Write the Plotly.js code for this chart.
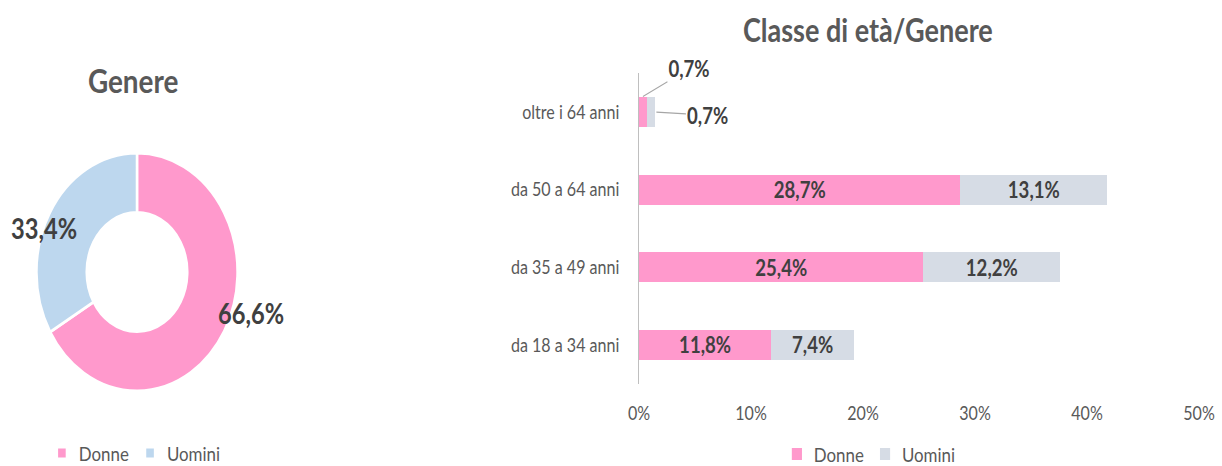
<!DOCTYPE html>
<html>
<head>
<meta charset="utf-8">
<script src="https://cdn.plot.ly/plotly-3.0.1.min.js"></script>
<style>
  html, body { margin: 0; padding: 0; background: #fff; }
  #wrap { width: 1222px; height: 466px; overflow: hidden; }
  #plot { width: 1446px; height: 466px; transform: scaleX(0.8451); transform-origin: 0 0; }
</style>
</head>
<body>
<div id="wrap"><div id="plot"></div></div>
<script>
// ---- data ----
const genderLabels = ['Donne', 'Uomini'];
const genderValues = [66.6, 33.4];

const ageCategories = ['da 18 a 34 anni', 'da 35 a 49 anni', 'da 50 a 64 anni', 'oltre i 64 anni'];
const donneValues = [11.8, 25.4, 28.7, 0.7];
const uominiValues = [7.4, 12.2, 13.1, 0.7];
const xTickValues = [0, 10, 20, 30, 40, 50];

const pieTitle = 'Genere';
const barTitle = 'Classe di età/Genere';

// ---- helpers ----
const fmt = v => v.toFixed(1).replace('.', ',') + '%';
const W = 1446;
const px = x => x / 0.8451 / W;       // reference x -> paper fraction
const py = y => (466 - y) / 466;      // reference y -> paper fraction

const FONT = 'Lato, "Open Sans", sans-serif';
const PINK = '#FF99CC';
const BLUE = '#BDD7EE';
const GREYBAR = '#D6DCE5';
const TXT = '#595959';
const DARK = '#404040';

const pie = {
  type: 'pie',
  labels: genderLabels,
  values: genderValues,
  hole: 0.5,
  sort: false,
  direction: 'clockwise',
  rotation: 0,
  textinfo: 'none',
  marker: { colors: [PINK, BLUE], line: { color: '#ffffff', width: 3 } },
  domain: { x: [px(137) - 119 / W, px(137) + 119 / W], y: [py(391), py(153)] },
  legend: 'legend',
  showlegend: true
};

const barText = arr => arr.map(v => (v >= 2 ? fmt(v) : ''));
const barCommon = {
  type: 'bar',
  orientation: 'h',
  y: ageCategories,
  textposition: 'inside',
  insidetextanchor: 'middle',
  textangle: 0,
  constraintext: 'none',
  textfont: { family: FONT, size: 22, color: DARK, weight: 'bold' },
  legend: 'legend2',
  xaxis: 'x',
  yaxis: 'y'
};
const barDonne = Object.assign({}, barCommon, {
  name: 'Donne', x: donneValues, text: barText(donneValues), marker: { color: PINK }
});
const barUomini = Object.assign({}, barCommon, {
  name: 'Uomini', x: uominiValues, text: barText(uominiValues), marker: { color: GREYBAR }
});

const n = ageCategories.length - 1;
const ann = (o) => Object.assign({ xanchor: 'center', yanchor: 'middle' }, o);
const annotations = [
  ann({ text: '<b>' + pieTitle + '</b>', xref: 'paper', yref: 'paper', x: px(133), y: py(80),
    showarrow: false, font: { family: FONT, size: 33, color: TXT } }),
  ann({ text: '<b>' + barTitle + '</b>', xref: 'paper', yref: 'paper', x: px(868), y: py(30),
    showarrow: false, font: { family: FONT, size: 32, color: TXT } }),
  ann({ text: '<b>' + fmt(genderValues[0]) + '</b>', xref: 'paper', yref: 'paper', x: px(251), y: py(313),
    showarrow: false, font: { family: FONT, size: 28, color: DARK } }),
  ann({ text: '<b>' + fmt(genderValues[1]) + '</b>', xref: 'paper', yref: 'paper', x: px(44), y: py(228),
    showarrow: false, font: { family: FONT, size: 28, color: DARK } }),
  ann({ text: '<b>' + fmt(donneValues[n]) + '</b>', xref: 'x', yref: 'y',
    x: donneValues[n] / 2, y: n + 0.2, showarrow: true, arrowhead: 0, arrowwidth: 1.2,
    arrowcolor: '#A6A6A6', ax: 55, ay: -28, font: { family: FONT, size: 22, color: DARK } }),
  ann({ text: '<b>' + fmt(uominiValues[n]) + '</b>', xref: 'x', yref: 'y',
    x: donneValues[n] + uominiValues[n], y: n, showarrow: true, arrowhead: 0, arrowwidth: 1.2,
    arrowcolor: '#A6A6A6', ax: 63, ay: 3, standoff: 2, font: { family: FONT, size: 22, color: DARK } })
];

const layout = {
  width: W,
  height: 466,
  margin: { l: 0, r: 0, t: 0, b: 0, pad: 0, autoexpand: false },
  paper_bgcolor: '#ffffff',
  plot_bgcolor: '#ffffff',
  font: { family: FONT, color: TXT },
  separators: ',.',
  barmode: 'stack',
  bargap: 0.61,
  xaxis: {
    domain: [px(639), px(1199)],
    range: [0, 50],
    tickvals: xTickValues,
    ticktext: xTickValues.map(v => v + '%'),
    showgrid: false, zeroline: false, showline: false,
    ticks: '', ticklabelstandoff: 16,
    tickfont: { family: FONT, size: 19, color: TXT },
    automargin: false, fixedrange: true
  },
  yaxis: {
    domain: [py(383.8), py(73.2)],
    type: 'category',
    categoryorder: 'array',
    categoryarray: ageCategories,
    range: [-0.5, ageCategories.length - 0.5],
    showgrid: false, zeroline: false,
    showline: true, linecolor: '#BFBFBF', linewidth: 1.5,
    ticks: '', ticklabelstandoff: 18,
    tickfont: { family: FONT, size: 19, color: TXT },
    automargin: false, fixedrange: true
  },
  legend: {
    orientation: 'h', x: px(135), y: py(453), xanchor: 'center', yanchor: 'middle',
    font: { family: FONT, size: 20, color: TXT }, traceorder: 'normal',
    itemwidth: 30, bgcolor: 'rgba(0,0,0,0)'
  },
  legend2: {
    orientation: 'h', x: px(870), y: py(454), xanchor: 'center', yanchor: 'middle',
    font: { family: FONT, size: 20, color: TXT }, traceorder: 'normal',
    itemwidth: 30, bgcolor: 'rgba(0,0,0,0)'
  },
  annotations: annotations,
  showlegend: true
};

Plotly.newPlot('plot', [pie, barDonne, barUomini], layout, { displayModeBar: false, staticPlot: true });
</script>
</body>
</html>
